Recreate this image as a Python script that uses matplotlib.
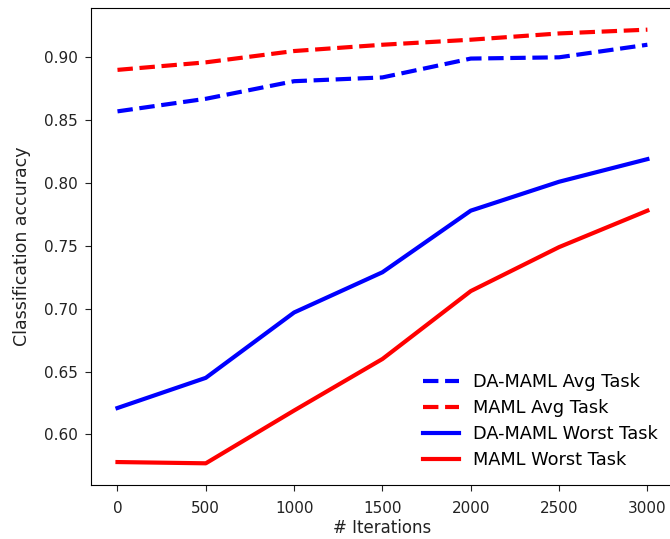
import matplotlib
matplotlib.use('Agg')
import matplotlib.pyplot as plt

# ── Data ──────────────────────────────────────────────────────────────────────
iterations = [0, 500, 1000, 1500, 2000, 2500, 3000]

da_maml_avg = [0.857, 0.867, 0.881, 0.884, 0.899, 0.900, 0.910]
maml_avg = [0.890, 0.896, 0.905, 0.910, 0.914, 0.919, 0.922]
da_maml_worst = [0.621, 0.645, 0.697, 0.729, 0.778, 0.801, 0.819]
maml_worst = [0.578, 0.577, 0.619, 0.660, 0.714, 0.749, 0.778]

# ── Figure ────────────────────────────────────────────────────────────────────
fig = plt.figure(figsize=(6.7, 5.39), dpi=100)
ax = fig.add_axes([0.1358, 0.1002, 0.870, 0.885])

ax.plot(iterations, da_maml_avg, '--', color='blue', lw=3, label='DA-MAML Avg Task')
ax.plot(iterations, maml_avg, '--', color='red', lw=3, label='MAML Avg Task')
ax.plot(iterations, da_maml_worst, '-', color='blue', lw=3, label='DA-MAML Worst Task')
ax.plot(iterations, maml_worst, '-', color='red', lw=3, label='MAML Worst Task')

ax.spines['right'].set_visible(False)
ax.set_xticks(iterations)
ax.tick_params(labelsize=11, colors='#222222', length=4.5)
ax.tick_params(axis='x', pad=7)
ax.tick_params(axis='y', pad=5)
ax.set_xlabel('# Iterations', fontsize=12, color='#222222', labelpad=2)
ax.set_ylabel('Classification accuracy', fontsize=12.5, color='#222222', labelpad=9)

ax.legend(loc='lower right', frameon=False, fontsize=12.8,
          labelspacing=0.45, borderaxespad=0.5)

fig.savefig('out.png', dpi=100)
